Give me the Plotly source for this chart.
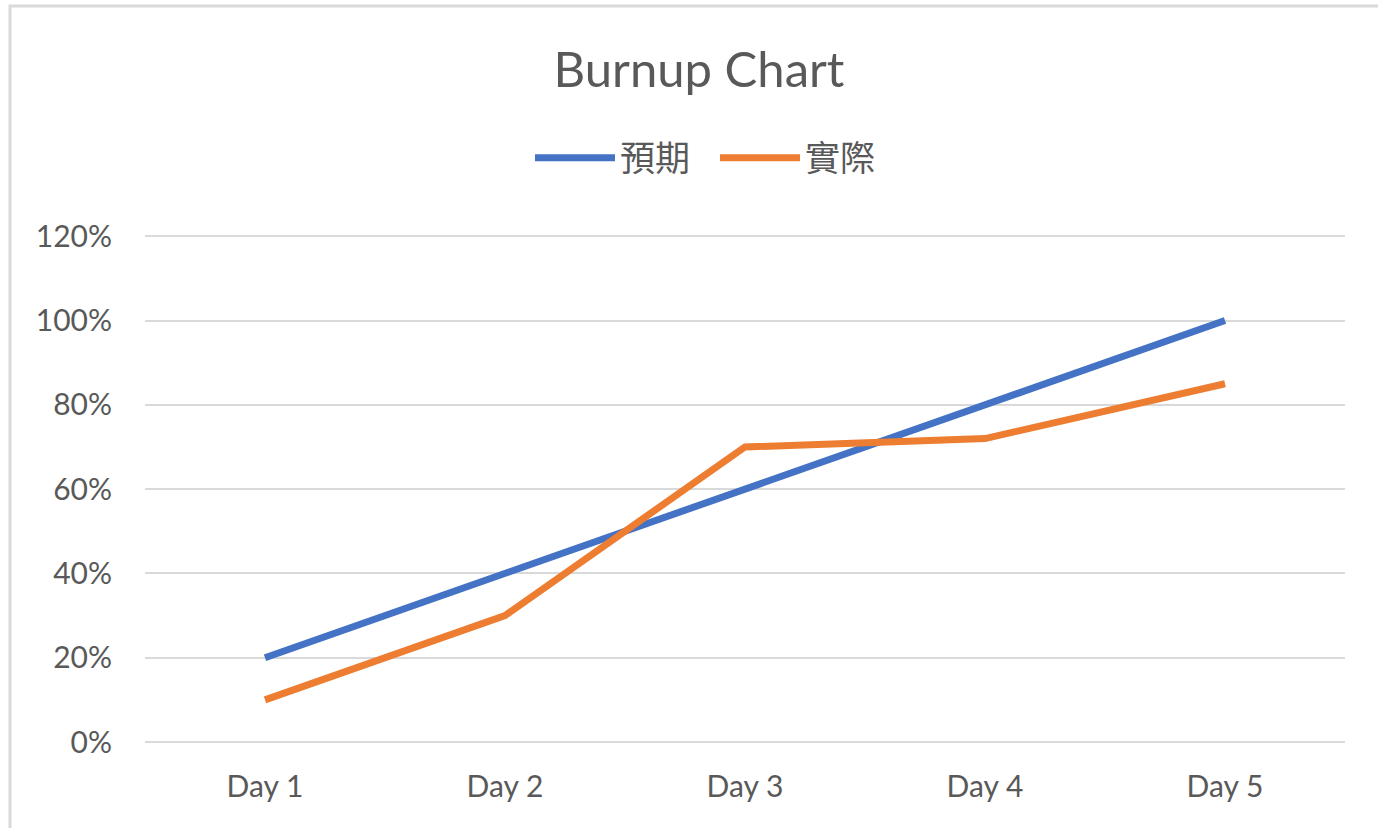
import plotly.graph_objects as go

days = ["Day 1", "Day 2", "Day 3", "Day 4", "Day 5"]
expected = [0.20, 0.40, 0.60, 0.80, 1.00]
actual = [0.10, 0.30, 0.70, 0.72, 0.85]
y_ticks = [0, 0.2, 0.4, 0.6, 0.8, 1.0, 1.2]
y_tick_labels = ["0%", "20%", "40%", "60%", "80%", "100%", "120%"]

FONT = "Lato, 'Noto Sans CJK TC', sans-serif"
TXT = "#595959"

fig = go.Figure()
fig.add_trace(go.Scatter(x=days, y=expected, name="預期", mode="lines",
                         line=dict(color="#4472C4", width=7)))
fig.add_trace(go.Scatter(x=days, y=actual, name="實際", mode="lines",
                         line=dict(color="#ED7D31", width=7)))

W, H = 1378, 828
L, T = 145, 235
R = W - 1345
B = H - 742
pw, ph = W - L - R, H - T - B

fig.update_layout(
    width=W, height=H,
    margin=dict(l=L, r=R, t=T, b=B, autoexpand=False),
    paper_bgcolor="white", plot_bgcolor="white",
    font=dict(family=FONT, color=TXT, size=30),
    title=dict(text="Burnup Chart", x=699 / W, xref="container", xanchor="center",
               y=1 - 70 / H, yref="container", yanchor="middle",
               font=dict(size=49, color=TXT, family=FONT)),
    legend=dict(orientation="h", xref="container", yref="container",
                x=530 / W, xanchor="left", y=1 - 158 / H, yanchor="middle",
                font=dict(size=35, color=TXT, family=FONT),
                itemwidth=80, entrywidth=90, entrywidthmode="pixels",
                bgcolor="rgba(0,0,0,0)"),
    xaxis=dict(type="category", range=[-0.5, 4.5], showgrid=False,
               showline=False, zeroline=False, ticks="", ticklabelstandoff=24,
               tickfont=dict(size=30, color=TXT), fixedrange=True),
    yaxis=dict(range=[0, 1.203], tickvals=y_ticks, ticktext=y_tick_labels,
               showgrid=True, gridcolor="#D9D9D9", gridwidth=2,
               zeroline=True, zerolinecolor="#D9D9D9", zerolinewidth=2,
               showline=False, ticks="", ticklabelstandoff=32,
               tickfont=dict(size=30, color=TXT), fixedrange=True),
    shapes=[dict(type="rect", xref="paper", yref="paper",
                 x0=(10 - L) / pw, x1=(W + 20 - L) / pw,
                 y0=-(H + 20 - (H - B)) / ph, y1=(H - B - 6) / ph,
                 line=dict(color="#D9D9D9", width=3), layer="below")],
)

fig.write_html("out.html", config={"displayModeBar": False},
               post_script="document.body.style.margin='0';")
